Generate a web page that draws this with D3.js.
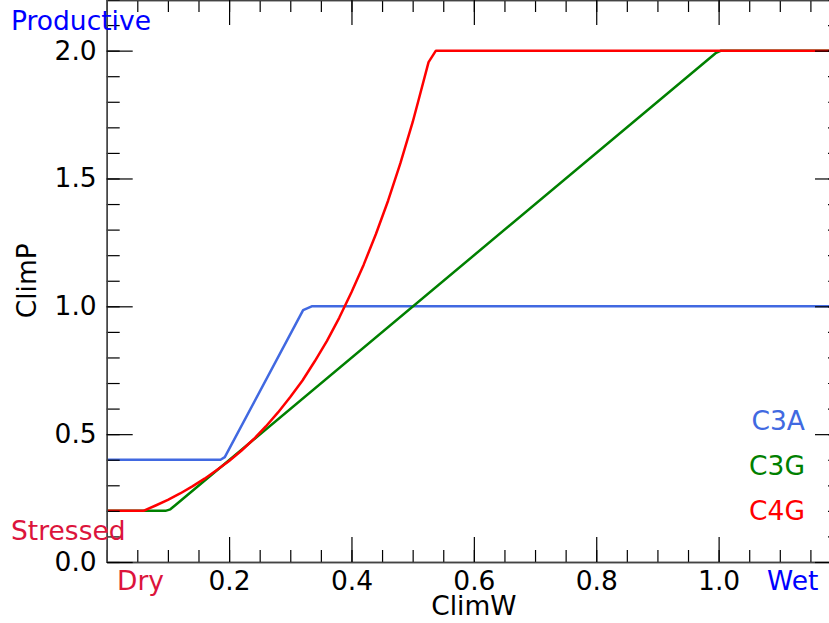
<!DOCTYPE html>
<html><head><meta charset="utf-8">
<script src="https://cdn.jsdelivr.net/npm/d3@7"></script>
<style>
body{margin:0;background:#fff}
svg{display:block}
text{font-family:"DejaVu Sans",sans-serif}
</style>
</head><body><svg id="c" width="829" height="623"></svg>
<script>
// ---- data ----
const c3aX = [0, 0.186, 0.193, 0.321, 0.335, 1.2];
const c3aY = [0.4, 0.4, 0.41, 0.985, 1.0, 1.0];

const c3gX = [0, 0.096, 0.104, 0.112, 0.995, 1.004, 1.2];
const c3gY = [0.2, 0.2, 0.206, 0.222, 1.99, 2.0, 2.0];

const c4gX = [0, 0.06, 0.08, 0.10, 0.12, 0.14, 0.16, 0.18, 0.20, 0.22, 0.24, 0.26, 0.28, 0.30, 0.32, 0.34, 0.36, 0.38, 0.40, 0.42, 0.44, 0.46, 0.48, 0.50, 0.51, 0.526, 0.538, 1.2];
const c4gY = [0.2, 0.2, 0.221, 0.243, 0.268, 0.296, 0.326, 0.36, 0.395, 0.435, 0.48, 0.53, 0.585, 0.645, 0.71, 0.785, 0.865, 0.955, 1.055, 1.163, 1.283, 1.414, 1.56, 1.72, 1.81, 1.955, 2.0, 2.0];

const seriesNames = ["C3A", "C3G", "C4G"];
const seriesColors = ["#4169e1", "#008000", "#ff0000"];

const xMajorTicks = [0.2, 0.4, 0.6, 0.8, 1.0];
const xMinorTicks = d3.range(0, 1.2001, 0.05);
const yMajorTicks = [0.0, 0.5, 1.0, 1.5, 2.0];
const yMinorTicks = d3.range(0, 2.2001, 0.1);

const xDomain = [0, 1.2];
const yDomain = [0, 2.2];

// ---- layout ----
const L = 106.7, R = 841, T = -0.5, B = 562;
const FS = 26.5;
const svg = d3.select("#c");
const x = d3.scaleLinear().domain(xDomain).range([L, R]);
const y = d3.scaleLinear().domain(yDomain).range([B, T]);

svg.append("clipPath").attr("id", "clip")
  .append("rect").attr("x", L).attr("y", T).attr("width", R - L).attr("height", B - T);

const series = [
  {xs: c3aX, ys: c3aY},
  {xs: c3gX, ys: c3gY},
  {xs: c4gX, ys: c4gY}
];
const line = d3.line().x(d => x(d[0])).y(d => y(d[1]));
const gLines = svg.append("g").attr("clip-path", "url(#clip)");
series.forEach((s, i) => {
  gLines.append("path")
    .attr("d", line(s.xs.map((v, j) => [v, s.ys[j]])))
    .attr("fill", "none")
    .attr("stroke", seriesColors[i])
    .attr("stroke-width", 2.5)
    .attr("stroke-linejoin", "round");
});

function styleAxis(g) {
  g.selectAll("path.domain").attr("stroke", "#444").attr("stroke-width", 1.4);
  g.selectAll(".tick line").attr("stroke", "#000").attr("stroke-width", 1.2);
  g.selectAll("text").attr("font-size", FS).attr("fill", "#000")
    .attr("font-family", "DejaVu Sans, sans-serif");
}

// bottom axis
svg.append("g").attr("transform", `translate(0,${B})`)
  .call(d3.axisBottom(x).tickValues(xMinorTicks).tickSize(-12).tickFormat("").tickSizeOuter(0))
  .call(styleAxis);
svg.append("g").attr("transform", `translate(0,${B})`)
  .call(d3.axisBottom(x).tickValues(xMajorTicks).tickSize(-25).tickPadding(9)
    .tickFormat(d3.format(".1f")).tickSizeOuter(0))
  .call(styleAxis);
// top axis
svg.append("g").attr("transform", `translate(0,${T + 0.5})`)
  .call(d3.axisTop(x).tickValues(xMinorTicks).tickSize(-12).tickFormat("").tickSizeOuter(0))
  .call(styleAxis);
svg.append("g").attr("transform", `translate(0,${T + 0.5})`)
  .call(d3.axisTop(x).tickValues(xMajorTicks).tickSize(-25).tickFormat("").tickSizeOuter(0))
  .call(styleAxis);
// left axis
svg.append("g").attr("transform", `translate(${L},0)`)
  .call(d3.axisLeft(y).tickValues(yMinorTicks).tickSize(-13).tickFormat("").tickSizeOuter(0))
  .call(styleAxis);
svg.append("g").attr("transform", `translate(${L},0)`)
  .call(d3.axisLeft(y).tickValues(yMajorTicks).tickSize(-26).tickPadding(10)
    .tickFormat(d3.format(".1f")).tickSizeOuter(0))
  .call(styleAxis);
// right axis
svg.append("g").attr("transform", `translate(${R},0)`)
  .call(d3.axisRight(y).tickValues(yMinorTicks).tickSize(-13).tickFormat("").tickSizeOuter(0))
  .call(styleAxis);
svg.append("g").attr("transform", `translate(${R},0)`)
  .call(d3.axisRight(y).tickValues(yMajorTicks).tickSize(-26).tickFormat("").tickSizeOuter(0))
  .call(styleAxis);

// axis titles
svg.append("text").attr("x", (L + R) / 2).attr("y", 615).attr("text-anchor", "middle")
  .attr("font-size", FS).text("ClimW");
svg.append("text").attr("transform", `translate(36,${(T + B) / 2}) rotate(-90)`)
  .attr("text-anchor", "middle").attr("font-size", FS).text("ClimP");

// corner annotations
svg.append("text").attr("x", 11).attr("y", 30).attr("fill", "#0000ff").attr("font-size", FS).text("Productive");
svg.append("text").attr("x", 11).attr("y", 540).attr("fill", "#dc143c").attr("font-size", FS).text("Stressed");
svg.append("text").attr("x", 117).attr("y", 590).attr("fill", "#dc143c").attr("font-size", FS).text("Dry");
svg.append("text").attr("x", 767).attr("y", 590).attr("fill", "#0000ff").attr("font-size", FS).text("Wet");

// legend
const legY = [430, 475, 520];
seriesNames.forEach((n, i) => {
  svg.append("text").attr("x", 805).attr("y", legY[i]).attr("text-anchor", "end")
    .attr("fill", seriesColors[i]).attr("font-size", FS).text(n);
});
</script>
</body></html>
